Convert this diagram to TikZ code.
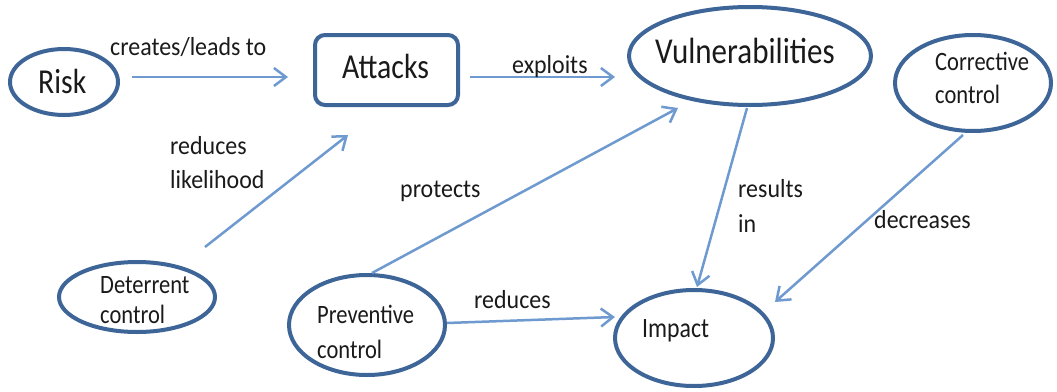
\documentclass[tikz,border=0pt]{standalone}
\usepackage{fontspec}
\setmainfont{Carlito}
\newfontfamily\nodefont[FakeStretch=0.85]{Carlito}
\newfontfamily\edgefont[FakeStretch=0.92]{Carlito}
\usetikzlibrary{arrows.meta,calc,shapes.geometric}
\definecolor{rim}{HTML}{3E6598}
\definecolor{link}{HTML}{6E9AD0}
\definecolor{ink}{HTML}{1A1A1A}
\newcommand{\twolines}[2]{\begin{tabular}[t]{@{}l@{}}#1\\#2\end{tabular}}

\begin{document}
\begin{tikzpicture}[x=1pt,y=-1pt,
  oval/.style={ellipse, draw=rim, line width=4pt, inner sep=0pt},
  box/.style={rectangle, rounded corners=10pt, draw=rim, line width=4pt, inner sep=0pt},
  arr/.style={draw=link, line width=2.5pt,
    -{Straight Barb[length=12pt,width=18pt]}},
  bigtxt/.style={anchor=base west, inner sep=0pt, text=ink,
    font=\nodefont\fontsize{#1}{#1}\selectfont},
  smalltxt/.style={anchor=base west, inner sep=0pt, text=ink,
    font=\nodefont\fontsize{26.5}{#1}\selectfont},
  edgetxt/.style={anchor=base west, inner sep=0pt, text=ink,
    font=\edgefont\fontsize{26}{#1}\selectfont}]

\fill[white] (0,0) rectangle (1057,391);
\useasboundingbox (0,0) rectangle (1057,391);

% shapes
\node[oval, minimum width=108pt, minimum height=66pt] (risk) at (64,82) {};
\node[box, minimum width=143pt, minimum height=70pt] (att) at (386.5,70) {};
\node[oval, minimum width=242pt, minimum height=98pt] (vul) at (750,56) {};
\node[oval, minimum width=156pt, minimum height=96pt] (cor) at (973,83) {};
\node[oval, minimum width=156pt, minimum height=70pt] (det) at (137,297) {};
\node[oval, minimum width=156pt, minimum height=100pt] (pre) at (367,325) {};
\node[oval, minimum width=158pt, minimum height=96pt] (imp) at (694,338) {};

% texts inside the shapes
\node[bigtxt=35] (risk-t) at (38,93) {Risk};
\node[bigtxt=35] (att-t) at (342,78) {Attacks};
\node[bigtxt=36.5] (vul-t) at (655,63) {Vulnerabilities};
\node[smalltxt=33] (cor-t) at (935,70) {\twolines{Corrective}{control}};
\node[smalltxt=30] (det-t) at (100,293) {\twolines{Deterrent}{control}};
\node[smalltxt=35] (pre-t) at (317,323) {\twolines{Preventive}{control}};
\node[bigtxt=28] (imp-t) at (642,337) {Impact};

% connectors
\draw[arr] ($(risk.center)+(68,-5)$) -- ($(att.center)+(-98.5,7)$);
\draw[arr] ($(att.center)+(83.5,7)$) -- ($(vul.center)+(-135,21)$);
\draw[arr] ($(det.center)+(68,-50)$) -- ($(att.center)+(-38.5,65)$);
\draw[arr] ($(pre.center)+(5,-52)$) -- ($(vul.center)+(-72,52)$);
\draw[arr] ($(vul.center)+(-3,52)$) -- ($(imp.center)+(3,-51)$);
\draw[arr] ($(cor.center)+(-10,52)$) -- ($(imp.center)+(81,-36)$);
\draw[arr] ($(pre.center)+(80,-2)$) -- ($(imp.center)+(-79,-21)$);

% connector labels
\node[edgetxt=26] (l-creates) at (110,55) {creates/leads to};
\node[edgetxt=26] (l-exploits) at (512,73) {exploits};
\node[edgetxt=34] (l-likely) at (170,154) {\twolines{reduces}{likelihood}};
\node[edgetxt=26] (l-protects) at (400,197) {protects};
\node[edgetxt=35] (l-results) at (738,197) {\twolines{results}{in}};
\node[edgetxt=26] (l-decreases) at (874,228) {decreases};
\node[edgetxt=26] (l-reduces) at (474,308) {reduces};
\end{tikzpicture}
\end{document}
